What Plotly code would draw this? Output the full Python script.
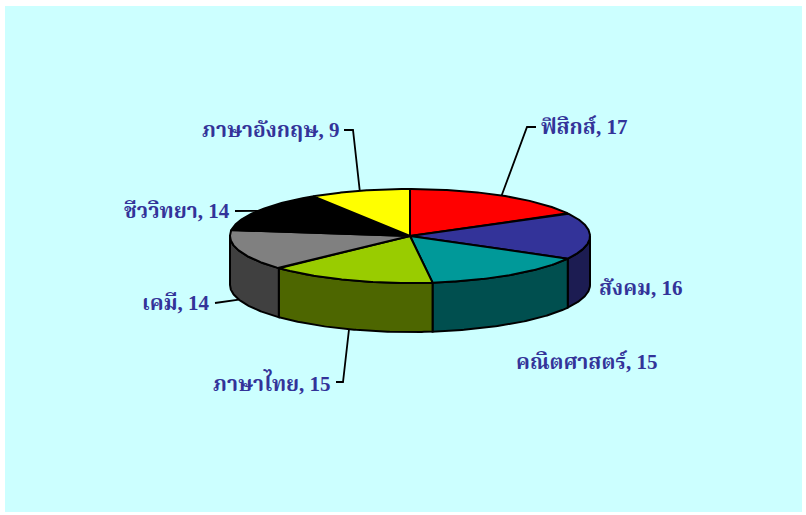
import numpy as np
import plotly.graph_objects as go

# ---- data ----
subjects = ["ฟิสิกส์", "สังคม", "คณิตศาสตร์", "ภาษาไทย", "เคมี", "ชีววิทยา", "ภาษาอังกฤษ"]
values = [17, 16, 15, 15, 14, 14, 9]

# ---- styles ----
top_colors = ["#FF0000", "#333399", "#009999", "#99CC00", "#808080", "#000000", "#FFFF00"]
side_colors = ["#800000", "#1C1C52", "#004F4F", "#4D6600", "#404040", "#000000", "#808000"]
label_color = "#333399"

# pie geometry in pixel space
W, H = 806, 515
cx, cy, rx, ry, depth = 410, 236, 180, 47, 49

# label placement (pixel text anchor, xanchor)
label_pos = [
    (539, 127, "left"),
    (597, 288, "left"),
    (514, 362, "left"),
    (333, 382, "right"),
    (212, 303, "right"),
    (232, 211, "right"),
    (341, 130, "right"),
]
# leader elbows (None = straight leader); anchor computed from slice geometry
leader_elbow = [
    (527, 127), None, None, (343, 382), None, None, (353, 130),
]
has_leader = [True, False, False, True, True, True, True]


def pt(t, dy=0.0):
    return cx + rx * np.sin(t), cy - ry * np.cos(t) + dy


fig = go.Figure()

total = sum(values)
bounds = np.concatenate([[0], np.cumsum(values)]) / total * 2 * np.pi

# ---- leader lines (drawn first, under the pie) ----
for i, (lp, el) in enumerate(zip(label_pos, leader_elbow)):
    if not has_leader[i]:
        continue
    tm = (bounds[i] + bounds[i + 1]) / 2
    front = np.pi / 2 < tm < 3 * np.pi / 2
    ax_, ay_ = pt(tm, depth if front else 0)
    lx, ly, anc = lp
    xs, ys = [ax_], [ay_]
    if el is not None:
        xs.append(el[0]); ys.append(el[1])
    xs.append(lx + (3 if anc == "right" else -3)); ys.append(ly)
    fig.add_trace(go.Scatter(x=xs, y=ys, mode="lines",
                             line=dict(color="black", width=1.8),
                             hoverinfo="skip", showlegend=False))

# ---- side walls (front half only) ----
for i in range(len(values)):
    t1, t2 = bounds[i], bounds[i + 1]
    a, b = max(t1, np.pi / 2), min(t2, 3 * np.pi / 2)
    if a >= b:
        continue
    ts = np.linspace(a, b, 80)
    xt, yt = pt(ts)
    xb, yb = pt(ts[::-1], depth)
    xs = np.concatenate([xt, xb, xt[:1]])
    ys = np.concatenate([yt, yb, yt[:1]])
    fig.add_trace(go.Scatter(x=xs, y=ys, mode="lines", fill="toself",
                             fillcolor=side_colors[i],
                             line=dict(color="black", width=2),
                             hoverinfo="skip", showlegend=False))

# ---- top faces ----
for i, (name, v) in enumerate(zip(subjects, values)):
    ts = np.linspace(bounds[i], bounds[i + 1], 120)
    xa, ya = pt(ts)
    xs = np.concatenate([[cx], xa, [cx]])
    ys = np.concatenate([[cy], ya, [cy]])
    fig.add_trace(go.Scatter(x=xs, y=ys, mode="lines", fill="toself",
                             fillcolor=top_colors[i],
                             line=dict(color="black", width=2),
                             name=name, text=f"{name}, {v}",
                             hoverinfo="text", showlegend=False))

# ---- labels ----
for name, v, (lx, ly, anc) in zip(subjects, values, label_pos):
    fig.add_annotation(x=lx, y=ly, xref="x", yref="y", text=f"<b>{name}, {v}</b>",
                       showarrow=False, xanchor=anc, yanchor="middle",
                       font=dict(family="Liberation Serif, Noto Serif Thai, Noto Sans Thai, serif",
                                 size=21, color=label_color))

fig.update_layout(
    width=W, height=H,
    margin=dict(l=0, r=0, t=0, b=0),
    paper_bgcolor="white",
    plot_bgcolor="white",
    xaxis=dict(range=[0, W], visible=False, fixedrange=True),
    yaxis=dict(range=[H, 0], visible=False, fixedrange=True),
    shapes=[dict(type="rect", xref="x", yref="y", x0=5, y0=6, x1=802, y1=512,
                 fillcolor="#CCFFFF", line=dict(width=0), layer="below")],
)

fig.write_html("out.html")
